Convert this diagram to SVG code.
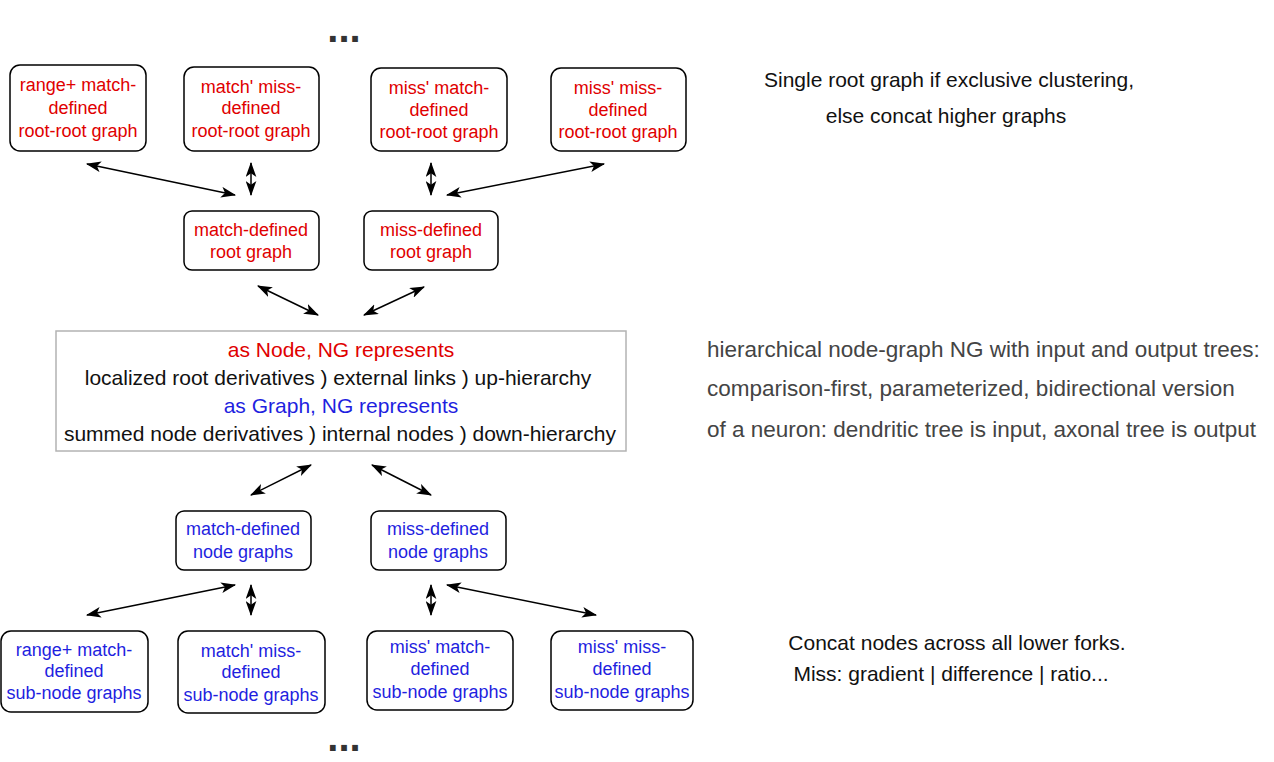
<svg xmlns="http://www.w3.org/2000/svg" width="1274" height="762" viewBox="0 0 1274 762">
<style>
text{font-family:"Liberation Sans",Arial,sans-serif}
.box{fill:#fff;stroke:#000;stroke-width:1.5}
.cbox{fill:#fff;stroke:#b3b3b3;stroke-width:1.5}
.r{fill:#e00000;font-size:18px;text-anchor:middle}
.b{fill:#1f1fe0;font-size:18px;text-anchor:middle}
.c{font-size:21px;text-anchor:middle}
.k{fill:#111}
.note{fill:#111;font-size:21px;text-anchor:middle}
.note2{fill:#444;font-size:22.5px}
.dots{fill:#333;font-size:40px;font-weight:bold;text-anchor:middle}
.ar{stroke:#000;stroke-width:1.5;fill:none;marker-start:url(#ah);marker-end:url(#ah)}
</style>
<defs>
<marker id="ah" viewBox="0 0 14 10" refX="13" refY="5" markerWidth="15" markerHeight="11" markerUnits="userSpaceOnUse" orient="auto-start-reverse">
<path d="M0,0 L14,5 L0,10 L3.5,5 Z" fill="#000"/>
</marker>
</defs>
<rect width="1274" height="762" fill="#fff"/>

<text class="dots" x="344" y="42">...</text>
<text class="dots" x="344" y="751">...</text>

<g id="rr1"><rect class="box" x="10" y="65" width="136" height="86" rx="10"/>
<text class="r" x="78" y="91">range+ match-</text><text class="r" x="78" y="114">defined</text><text class="r" x="78" y="137">root-root graph</text></g>
<g id="rr2"><rect class="box" x="184" y="67" width="135" height="84" rx="10"/>
<text class="r" x="251" y="93">match' miss-</text><text class="r" x="251" y="114">defined</text><text class="r" x="251" y="137">root-root graph</text></g>
<g id="rr3"><rect class="box" x="371" y="68" width="136" height="83" rx="10"/>
<text class="r" x="439" y="94">miss' match-</text><text class="r" x="439" y="116">defined</text><text class="r" x="439" y="138">root-root graph</text></g>
<g id="rr4"><rect class="box" x="551" y="68" width="135" height="83" rx="10"/>
<text class="r" x="618" y="94">miss' miss-</text><text class="r" x="618" y="116">defined</text><text class="r" x="618" y="138">root-root graph</text></g>

<g id="root1"><rect class="box" x="184" y="211" width="135" height="59" rx="8"/>
<text class="r" x="251" y="236">match-defined</text><text class="r" x="251" y="258">root graph</text></g>
<g id="root2"><rect class="box" x="364" y="211" width="134" height="59" rx="8"/>
<text class="r" x="431" y="236">miss-defined</text><text class="r" x="431" y="258">root graph</text></g>

<g id="ng"><rect class="cbox" x="56" y="331" width="570" height="120"/>
<text class="c" x="341" y="357" fill="#e00000">as Node, NG represents</text>
<text class="c k" x="338" y="385">localized root derivatives ) external links ) up-hierarchy</text>
<text class="c" x="341" y="413" fill="#1f1fe0">as Graph, NG represents</text>
<text class="c k" x="340" y="441">summed node derivatives ) internal nodes ) down-hierarchy</text></g>

<g id="node1"><rect class="box" x="176" y="511" width="135" height="59" rx="8"/>
<text class="b" x="243" y="535">match-defined</text><text class="b" x="243" y="558">node graphs</text></g>
<g id="node2"><rect class="box" x="371" y="511" width="135" height="59" rx="8"/>
<text class="b" x="438" y="535">miss-defined</text><text class="b" x="438" y="558">node graphs</text></g>

<g id="sub1"><rect class="box" x="1" y="631" width="147" height="81" rx="10"/>
<text class="b" x="74" y="656">range+ match-</text><text class="b" x="74" y="677">defined</text><text class="b" x="74" y="699">sub-node graphs</text></g>
<g id="sub2"><rect class="box" x="178" y="631" width="147" height="82" rx="10"/>
<text class="b" x="251" y="657">match' miss-</text><text class="b" x="251" y="678">defined</text><text class="b" x="251" y="701">sub-node graphs</text></g>
<g id="sub3"><rect class="box" x="367" y="631" width="146" height="79" rx="10"/>
<text class="b" x="440" y="653">miss' match-</text><text class="b" x="440" y="675">defined</text><text class="b" x="440" y="698">sub-node graphs</text></g>
<g id="sub4"><rect class="box" x="551" y="631" width="142" height="79" rx="10"/>
<text class="b" x="622" y="653">miss' miss-</text><text class="b" x="622" y="675">defined</text><text class="b" x="622" y="698">sub-node graphs</text></g>

<g id="connectors">
<line class="ar" x1="87" y1="164" x2="235" y2="195"/>
<line class="ar" x1="251" y1="163" x2="251" y2="195"/>
<line class="ar" x1="431" y1="163" x2="431" y2="195"/>
<line class="ar" x1="447" y1="195" x2="604" y2="164"/>
<line class="ar" x1="258" y1="286" x2="318" y2="315"/>
<line class="ar" x1="364" y1="315" x2="424" y2="287"/>
<line class="ar" x1="251" y1="495" x2="311" y2="465"/>
<line class="ar" x1="372" y1="465" x2="431" y2="495"/>
<line class="ar" x1="87" y1="615" x2="235" y2="585"/>
<line class="ar" x1="251" y1="585" x2="251" y2="615"/>
<line class="ar" x1="431" y1="585" x2="431" y2="615"/>
<line class="ar" x1="447" y1="585" x2="596" y2="615"/>
</g>

<g id="notes">
<text class="note" x="949" y="87">Single root graph if exclusive clustering,</text>
<text class="note" x="946" y="123">else concat higher graphs</text>
<text class="note2" x="707" y="357">hierarchical node-graph NG with input and output trees:</text>
<text class="note2" x="707" y="396">comparison-first, parameterized, bidirectional version</text>
<text class="note2" x="707" y="437">of a neuron: dendritic tree is input, axonal tree is output</text>
<text class="note" x="957" y="650">Concat nodes across all lower forks.</text>
<text class="note" x="951" y="681">Miss: gradient | difference | ratio...</text>
</g>
</svg>
